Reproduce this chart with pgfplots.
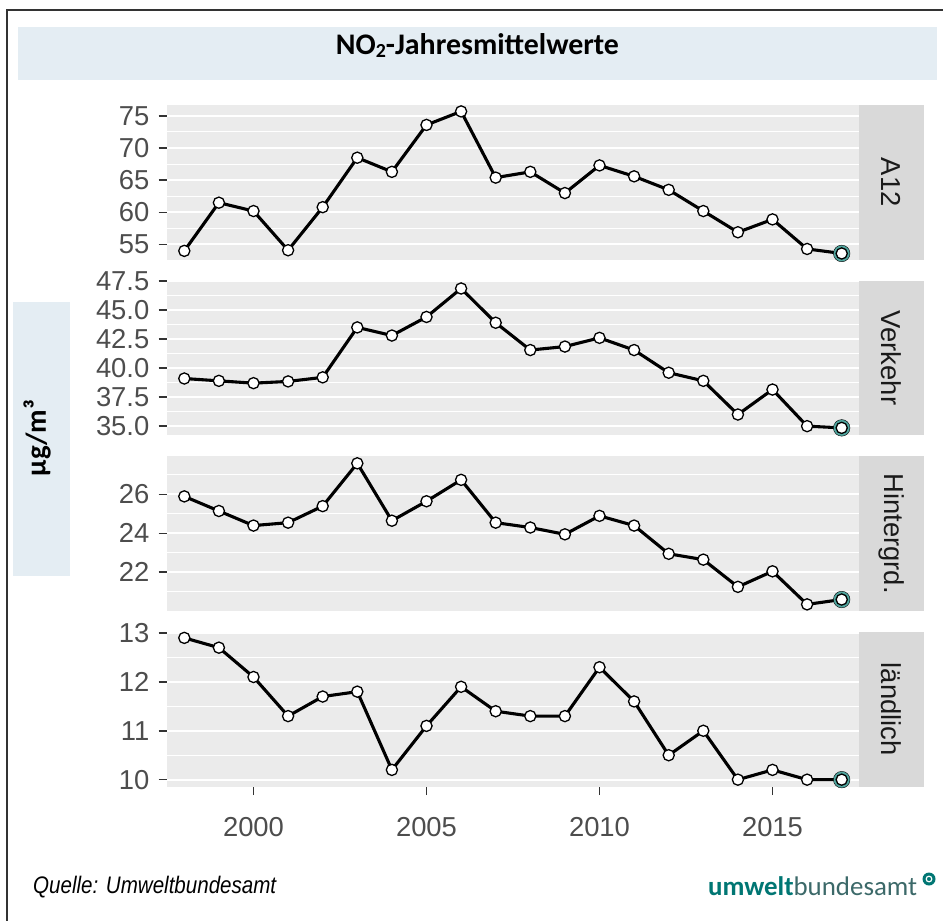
\documentclass[border=0pt]{standalone}
\usepackage{fontspec}
\setmainfont{Liberation Sans}
\newfontfamily\carlito{Carlito}
\usepackage{pgfplots}
\pgfplotsset{compat=1.18}

\definecolor{panelbg}{HTML}{EBEBEB}
\definecolor{stripbg}{HTML}{D9D9D9}
\definecolor{boxbg}{HTML}{E4EDF3}
\definecolor{labc}{HTML}{4D4D4D}
\definecolor{stripc}{HTML}{1A1A1A}
\definecolor{ringc}{RGB}{80,165,158}
\definecolor{ubateal}{RGB}{0,118,115}
\definecolor{ubagray}{RGB}{60,105,105}

\newcommand\tickfont{\fontsize{27.5}{30}\selectfont}

\pgfplotsset{
  facet/.style={
    width=692bp, height=154.5bp, scale only axis,
    anchor=north west,
    xmin=1997.5, xmax=2017.5,
    axis background/.style={fill=panelbg},
    axis line style={draw=none},
    tick align=outside, tick pos=left,
    major tick length=8.5bp, minor tick length=0pt,
    tick style={draw=black!80, line width=1.6bp},
    ymajorgrids, yminorgrids,
    major grid style={white, line width=2bp},
    minor grid style={white, line width=1bp},
    ticklabel style={font=\tickfont, text=labc},
    yticklabel style={anchor=east, inner sep=0pt, xshift=-9bp},
    /pgf/number format/assume math mode=true,
    xtick=\empty,
    clip=false,
  },
  ser/.style={black, line width=3.1bp, mark=*, mark size=5.6bp,
    mark options={fill=white, draw=black, line width=1.3bp}},
  ring/.style={only marks, mark=*, mark size=8.3bp,
    mark options={fill=ringc, draw=none}},
  last/.style={only marks, mark=*, mark size=5.6bp,
    mark options={fill=white, draw=black, line width=1.3bp}},
}

\begin{document}
\begin{tikzpicture}
\useasboundingbox (0,0) rectangle (943bp,-921bp);

% frame and boxes
\draw[black!80, line width=1.5bp] (7bp,-921bp) -- (7bp,-10bp) -- (943bp,-10bp);
\fill[boxbg] (18bp,-27bp) rectangle (937bp,-80bp);
\node[font=\carlito\bfseries\fontsize{30}{32}\selectfont] at (477.5bp,-46bp)
  {NO{\fontsize{20}{22}\selectfont\raisebox{-3bp}{2}}-Jahresmittelwerte};
\fill[boxbg] (12.7bp,-302bp) rectangle (70bp,-576bp);
\node[rotate=90, font=\carlito\bfseries\fontsize{29}{32}\selectfont] at (37bp,-438bp) {µg/m³};

% A12
\begin{axis}[facet, name=p1, at={(167bp,-105bp)},
  ymin=52.66, ymax=76.7, ytick={55,60,65,70,75},
  minor ytick={57.5,62.5,67.5,72.5}]
\addplot[ser] coordinates {
(1998,54.0) (1999,61.5) (2000,60.2) (2001,54.1) (2002,60.8)
(2003,68.5) (2004,66.3) (2005,73.6) (2006,75.7) (2007,65.4)
(2008,66.3) (2009,63.0) (2010,67.3) (2011,65.6) (2012,63.5)
(2013,60.2) (2014,56.9) (2015,58.9) (2016,54.3) (2017,53.6)};
\addplot[ring] coordinates {(2017,53.6)};
\addplot[last] coordinates {(2017,53.6)};
\end{axis}

% Verkehr
\begin{axis}[facet, name=p2, at={(167bp,-280.7bp)},
  ymin=34.22, ymax=47.52, ytick={35,37.5,40,42.5,45,47.5},
  minor ytick={36.25,38.75,41.25,43.75,46.25},
  yticklabel style={/pgf/number format/.cd, fixed, fixed zerofill, precision=1}]
\addplot[ser] coordinates {
(1998,39.1) (1999,38.9) (2000,38.7) (2001,38.85) (2002,39.2)
(2003,43.5) (2004,42.8) (2005,44.4) (2006,46.85) (2007,43.9)
(2008,41.55) (2009,41.85) (2010,42.6) (2011,41.55) (2012,39.6)
(2013,38.9) (2014,36.0) (2015,38.15) (2016,35.0) (2017,34.85)};
\addplot[ring] coordinates {(2017,34.85)};
\addplot[last] coordinates {(2017,34.85)};
\end{axis}

% Hintergrund
\begin{axis}[facet, name=p3, at={(167bp,-456.3bp)},
  ymin=20.02, ymax=27.96, ytick={22,24,26},
  minor ytick={21,23,25,27}]
\addplot[ser] coordinates {
(1998,25.9) (1999,25.15) (2000,24.4) (2001,24.55) (2002,25.4)
(2003,27.6) (2004,24.65) (2005,25.65) (2006,26.75) (2007,24.55)
(2008,24.3) (2009,23.95) (2010,24.9) (2011,24.4) (2012,22.95)
(2013,22.65) (2014,21.25) (2015,22.05) (2016,20.35) (2017,20.6)};
\addplot[ring] coordinates {(2017,20.6)};
\addplot[last] coordinates {(2017,20.6)};
\end{axis}

% laendlich
\begin{axis}[facet, name=p4, at={(167bp,-632bp)},
  ymin=9.86, ymax=13.02, ytick={10,11,12,13},
  minor ytick={10.5,11.5,12.5},
  xtick={2000,2005,2010,2015},
  xticklabel style={/pgf/number format/1000 sep={}, anchor=north,
    inner sep=0pt, yshift=-22bp}]
\addplot[ser] coordinates {
(1998,12.9) (1999,12.7) (2000,12.1) (2001,11.3) (2002,11.7)
(2003,11.8) (2004,10.2) (2005,11.1) (2006,11.9) (2007,11.4)
(2008,11.3) (2009,11.3) (2010,12.3) (2011,11.6) (2012,10.5)
(2013,11.0) (2014,10.0) (2015,10.2) (2016,10.0) (2017,10.0)};
\addplot[ring] coordinates {(2017,10.0)};
\addplot[last] coordinates {(2017,10.0)};
\end{axis}

% strips
\foreach \p/\lab in {p1/A12, p2/Verkehr, p3/Hintergrd., p4/ländlich} {
  \fill[stripbg] (\p.north east) rectangle ([xshift=65bp]\p.south east);
  \node[rotate=-90, font=\tickfont, text=stripc] at ([xshift=32.5bp]\p.east) {\lab};
}

% footer
\node[anchor=base west, inner sep=0pt] at (33bp,-893bp)
  {\scalebox{0.86}[1]{\fontsize{24}{26}\selectfont\itshape Quelle: Umweltbundesamt}};
\node[anchor=base west, inner sep=0pt, font=\carlito\fontsize{27}{30}\selectfont] at (708bp,-895bp)
  {\textcolor{ubateal}{\bfseries umwelt}\textcolor{ubagray}{bundesamt}};
\fill[ubateal] (929bp,-879bp) circle (6.5bp);
\draw[white, line width=1.2bp] (929bp,-879bp) circle (2.8bp);
\end{tikzpicture}
\end{document}
